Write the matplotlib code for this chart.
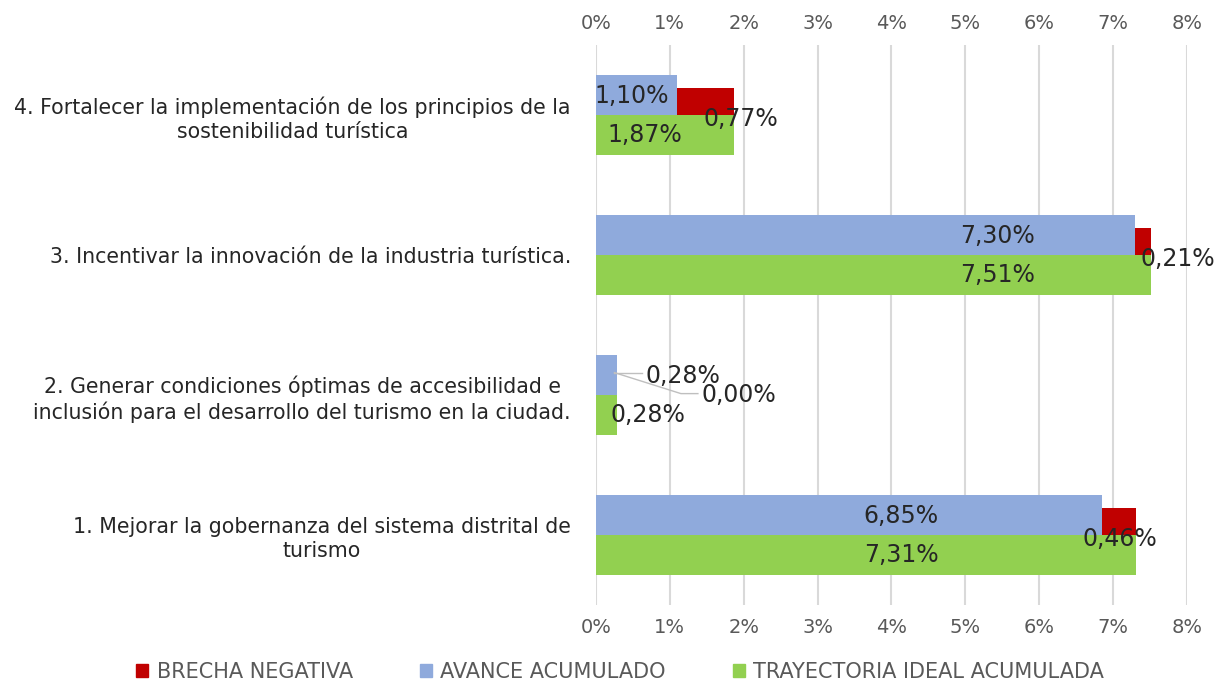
import numpy as np
import matplotlib.pyplot as plt
from matplotlib.patches import Patch

plt.rcParams["font.family"] = ["DejaVu Sans"]

# data (percent)
categories = [
    "1. Mejorar la gobernanza del sistema distrital de\nturismo",
    "2. Generar condiciones óptimas de accesibilidad e\ninclusión para el desarrollo del turismo en la ciudad.",
    "3. Incentivar la innovación de la industria turística.",
    "4. Fortalecer la implementación de los principios de la\nsostenibilidad turística",
]
avance = [6.85, 0.28, 7.30, 1.10]
brecha = [0.46, 0.00, 0.21, 0.77]
trayectoria = [7.31, 0.28, 7.51, 1.87]
x_ticks = [0, 1, 2, 3, 4, 5, 6, 7, 8]

# label placement (x in %, y offset from category centre)
avance_lbl_x = [4.13, 1.18, 5.43, 0.49]
brecha_lbl_x = [7.09, 1.93, 7.88, 1.96]
tray_lbl_x = [4.13, 0.70, 5.43, 0.66]

C_RED = "#C00000"
C_BLUE = "#8FAADC"
C_GREEN = "#92D050"
GRID = "#D9D9D9"
TXT = "#262626"
AX_TXT = "#595959"

def pct(v):
    return f"{v:.2f}".replace(".", ",") + "%"

fig = plt.figure(figsize=(12.28, 6.83), dpi=100)
ax = fig.add_axes([0.4853, 0.1142, 0.4813, 0.8199])

y = np.arange(len(categories))
h_main = 0.286
h_red = 0.193

ax.barh(y, avance, height=h_main, align="edge", color=C_BLUE, zorder=3)
ax.barh(y, brecha, height=h_red, left=avance, align="edge", color=C_RED, zorder=3)
ax.barh(y, trayectoria, height=-h_main, align="edge", color=C_GREEN, zorder=3)

fs_lbl = 17
for i in range(len(categories)):
    ax.text(avance_lbl_x[i], y[i] + 0.135, pct(avance[i]), ha="center", va="center",
            fontsize=fs_lbl, color=TXT, zorder=5)
    ax.text(tray_lbl_x[i], y[i] - 0.145, pct(trayectoria[i]), ha="center", va="center",
            fontsize=fs_lbl, color=TXT, zorder=5)
    by = y[i] - 0.03 if i != 1 else y[i]
    ax.text(brecha_lbl_x[i], by, pct(brecha[i]), ha="center", va="center",
            fontsize=fs_lbl, color=TXT, zorder=5)

# leader lines for category 2
c2 = y[1]
ax.plot([0.25, 0.62], [c2 + 0.16, c2 + 0.16], color="#BFBFBF", lw=1, zorder=4)
ax.plot([0.25, 1.15, 1.38], [c2 + 0.16, c2 + 0.01, c2 + 0.01], color="#BFBFBF", lw=1, zorder=4)

ax.set_xlim(0, 8)
ax.set_ylim(-0.5, 3.5)
ax.set_xticks(x_ticks)
ax.set_xticklabels([f"{t}%" for t in x_ticks], fontsize=14, color=AX_TXT)
ax.tick_params(axis="x", which="both", top=True, bottom=True, labeltop=True,
               labelbottom=True, length=0, pad=9)
ax.set_yticks(y)
ax.set_yticklabels(categories, fontsize=14.8, color=TXT, multialignment="center",
                   linespacing=1.25)
ax.tick_params(axis="y", length=0, pad=18)
ax.grid(axis="x", color=GRID, lw=1.5, zorder=0)
for s in ax.spines.values():
    s.set_visible(False)

handles = [Patch(color=C_RED), Patch(color=C_BLUE), Patch(color=C_GREEN)]
labels = ["BRECHA NEGATIVA", "AVANCE ACUMULADO", "TRAYECTORIA IDEAL ACUMULADA"]
leg = fig.legend(handles, labels, loc="lower center", bbox_to_anchor=(0.505, -0.026),
                 ncol=3, frameon=False, fontsize=15, handlelength=0.6, handleheight=0.6,
                 handletextpad=0.4, columnspacing=3.2)
for t in leg.get_texts():
    t.set_color(AX_TXT)

fig.savefig("out.png", dpi=100)
